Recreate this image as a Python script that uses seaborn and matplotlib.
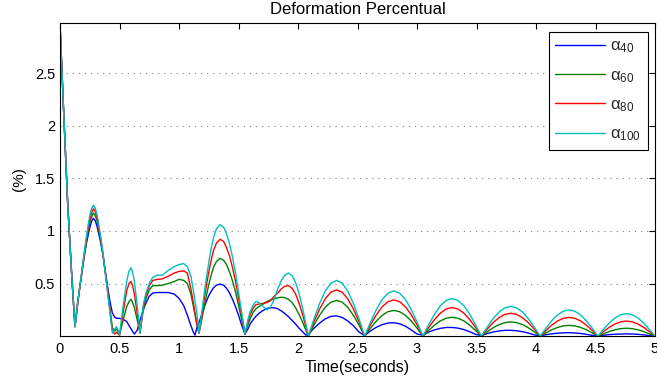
import matplotlib
matplotlib.use("Agg")
import matplotlib.pyplot as plt
from matplotlib.lines import Line2D
import pandas as pd
import seaborn as sns

# Sampled time axis (seconds), shared by all four responses
time_s = [
    # initial drop, first peak and the dip near 0.5 s
    0.0, 0.03, 0.065, 0.1, 0.126, 0.15, 0.2, 0.22, 0.24, 0.255,
    0.265, 0.28, 0.295, 0.31, 0.32, 0.34, 0.36, 0.40, 0.42, 0.44,
    0.46, 0.475, 0.49, 0.50, 0.53, 0.56, 0.58, 0.597, 0.61, 0.625, 0.65,
    # plateau around 1 s
    0.672, 0.70, 0.72, 0.75, 0.78, 0.82, 0.86, 0.91, 0.96, 1.0,
    1.04, 1.07, 1.1, 1.12, 1.134, 1.15,
    # large hump near 1.35 s
    1.168, 1.19, 1.21, 1.23, 1.25, 1.27, 1.29, 1.315, 1.345, 1.375,
    1.40, 1.425, 1.45, 1.475, 1.50, 1.525,
    # double hump up to 2.07 s
    1.555, 1.58, 1.6, 1.625, 1.647, 1.67, 1.7, 1.74, 1.77, 1.8,
    1.83, 1.86, 1.89, 1.92, 1.95, 1.98, 2.01, 2.04, 2.067,
    # decaying arches
    2.087, 2.134, 2.182, 2.229, 2.276, 2.324, 2.371, 2.418, 2.465, 2.513,
    2.56, 2.609, 2.658, 2.707, 2.756, 2.805, 2.854, 2.903, 2.952, 3.001,
    3.05, 3.099, 3.148, 3.197, 3.246, 3.295, 3.344, 3.393, 3.442, 3.491,
    3.54, 3.59, 3.639, 3.689, 3.738, 3.788, 3.837, 3.887, 3.936, 3.986,
    4.035, 4.084, 4.132, 4.181, 4.229, 4.278, 4.326, 4.375, 4.423, 4.472,
    4.52, 4.568, 4.616, 4.664, 4.712, 4.76, 4.808, 4.856, 4.904, 4.952, 5.0,
]

# Deformation (%) for each alpha setting
alpha40 = [
    2.97, 2.15, 1.25, 0.55, 0.09, 0.33, 0.73, 0.87, 0.98, 1.05,
    1.09, 1.12, 1.10, 1.05, 1.00, 0.90, 0.78, 0.47, 0.33, 0.22,
    0.18, 0.17, 0.17, 0.17, 0.16, 0.14, 0.10, 0.07, 0.045, 0.02, 0.06,
    0.15, 0.25, 0.31, 0.38, 0.41, 0.415, 0.415, 0.415, 0.40, 0.36,
    0.29, 0.20, 0.10, 0.04, 0.01, 0.08,
    0.13, 0.205, 0.27, 0.33, 0.385, 0.425, 0.46, 0.485, 0.495, 0.485,
    0.455, 0.41, 0.35, 0.28, 0.20, 0.11,
    0.02, 0.07, 0.12, 0.16, 0.19, 0.215, 0.24, 0.265, 0.27, 0.27,
    0.26, 0.24, 0.215, 0.185, 0.15, 0.115, 0.075, 0.04, 0.01,
    0.02, 0.075, 0.125, 0.165, 0.188, 0.193, 0.178, 0.145, 0.10, 0.04,
    0.005, 0.05, 0.085, 0.11, 0.125, 0.128, 0.118, 0.095, 0.06, 0.02,
    0.01, 0.04, 0.06, 0.075, 0.083, 0.083, 0.077, 0.063, 0.043, 0.018,
    0.005, 0.025, 0.04, 0.05, 0.056, 0.056, 0.052, 0.043, 0.03, 0.013,
    0.003, 0.014, 0.023, 0.029, 0.032, 0.033, 0.031, 0.026, 0.018, 0.008,
    0.002, 0.009, 0.015, 0.019, 0.021, 0.022, 0.021, 0.018, 0.013, 0.006, 0.001,
]
alpha60 = [
    2.97, 2.15, 1.25, 0.55, 0.09, 0.33, 0.74, 0.89, 1.02, 1.10,
    1.13, 1.17, 1.15, 1.10, 1.04, 0.92, 0.78, 0.44, 0.26, 0.08,
    0.05, 0.07, 0.04, 0.01, 0.15, 0.28, 0.33, 0.35, 0.32, 0.27, 0.15,
    0.03, 0.25, 0.35, 0.44, 0.48, 0.48, 0.485, 0.50, 0.52, 0.54,
    0.53, 0.50, 0.40, 0.29, 0.21, 0.11,
    0.03, 0.15, 0.27, 0.385, 0.49, 0.58, 0.655, 0.71, 0.74, 0.72,
    0.68, 0.61, 0.525, 0.42, 0.295, 0.165,
    0.02, 0.11, 0.17, 0.23, 0.26, 0.28, 0.30, 0.33, 0.345, 0.355,
    0.365, 0.37, 0.365, 0.35, 0.32, 0.27, 0.205, 0.13, 0.055,
    0.0, 0.105, 0.20, 0.275, 0.323, 0.34, 0.323, 0.275, 0.20, 0.105,
    0.0, 0.076, 0.144, 0.198, 0.233, 0.245, 0.233, 0.198, 0.144, 0.076,
    0.0, 0.056, 0.106, 0.146, 0.171, 0.18, 0.171, 0.146, 0.106, 0.056,
    0.0, 0.042, 0.08, 0.11, 0.129, 0.136, 0.129, 0.11, 0.08, 0.042,
    0.0, 0.032, 0.061, 0.083, 0.098, 0.103, 0.098, 0.083, 0.061, 0.032,
    0.0, 0.023, 0.045, 0.061, 0.072, 0.076, 0.072, 0.061, 0.045, 0.023, 0.0,
]
alpha80 = [
    2.97, 2.15, 1.25, 0.55, 0.09, 0.33, 0.75, 0.91, 1.05, 1.13,
    1.17, 1.21, 1.19, 1.13, 1.07, 0.94, 0.79, 0.43, 0.24, 0.05,
    0.02, 0.04, 0.02, 0.01, 0.22, 0.43, 0.50, 0.52, 0.48, 0.40, 0.21,
    0.03, 0.28, 0.38, 0.48, 0.53, 0.54, 0.545, 0.57, 0.60, 0.615,
    0.62, 0.60, 0.45, 0.32, 0.22, 0.12,
    0.03, 0.18, 0.34, 0.48, 0.61, 0.72, 0.815, 0.885, 0.92, 0.90,
    0.84, 0.76, 0.65, 0.52, 0.365, 0.205,
    0.02, 0.14, 0.21, 0.27, 0.30, 0.305, 0.31, 0.32, 0.34, 0.38,
    0.41, 0.45, 0.475, 0.48, 0.455, 0.40, 0.31, 0.20, 0.085,
    0.0, 0.136, 0.259, 0.356, 0.418, 0.44, 0.418, 0.356, 0.259, 0.136,
    0.0, 0.107, 0.203, 0.279, 0.328, 0.345, 0.328, 0.279, 0.203, 0.107,
    0.0, 0.084, 0.16, 0.22, 0.259, 0.272, 0.259, 0.22, 0.16, 0.084,
    0.0, 0.067, 0.128, 0.176, 0.207, 0.218, 0.207, 0.176, 0.128, 0.067,
    0.0, 0.055, 0.105, 0.145, 0.17, 0.179, 0.17, 0.145, 0.105, 0.055,
    0.0, 0.045, 0.085, 0.116, 0.137, 0.144, 0.137, 0.116, 0.085, 0.045, 0.0,
]
alpha100 = [
    2.97, 2.15, 1.25, 0.55, 0.09, 0.33, 0.76, 0.93, 1.08, 1.17,
    1.21, 1.245, 1.22, 1.16, 1.10, 0.96, 0.80, 0.42, 0.22, 0.03,
    0.07, 0.09, 0.05, 0.01, 0.28, 0.52, 0.62, 0.65, 0.61, 0.52, 0.28,
    0.03, 0.30, 0.40, 0.50, 0.56, 0.58, 0.58, 0.625, 0.66, 0.68,
    0.69, 0.66, 0.57, 0.44, 0.34, 0.22,
    0.03, 0.21, 0.39, 0.55, 0.70, 0.83, 0.94, 1.02, 1.06, 1.035,
    0.97, 0.875, 0.75, 0.60, 0.42, 0.235,
    0.02, 0.16, 0.24, 0.30, 0.33, 0.32, 0.29, 0.25, 0.28, 0.35,
    0.45, 0.53, 0.58, 0.60, 0.576, 0.51, 0.40, 0.26, 0.11,
    0.0, 0.164, 0.312, 0.429, 0.504, 0.53, 0.504, 0.429, 0.312, 0.164,
    0.0, 0.133, 0.253, 0.348, 0.409, 0.43, 0.409, 0.348, 0.253, 0.133,
    0.0, 0.111, 0.211, 0.29, 0.34, 0.358, 0.34, 0.29, 0.211, 0.111,
    0.0, 0.087, 0.166, 0.229, 0.269, 0.283, 0.269, 0.229, 0.166, 0.087,
    0.0, 0.077, 0.147, 0.202, 0.238, 0.25, 0.238, 0.202, 0.147, 0.077,
    0.0, 0.066, 0.126, 0.174, 0.204, 0.215, 0.204, 0.174, 0.126, 0.066, 0.0,
]

series_labels = [r"$\alpha_{40}$", r"$\alpha_{60}$", r"$\alpha_{80}$", r"$\alpha_{100}$"]
series_values = [alpha40, alpha60, alpha80, alpha100]
line_colors = ["#0000ff", "#008000", "#ff0000", "#00bfbf"]

x_ticks = [0, 0.5, 1, 1.5, 2, 2.5, 3, 3.5, 4, 4.5, 5]
x_tick_labels = ["0", "0.5", "1", "1.5", "2", "2.5", "3", "3.5", "4", "4.5", "5"]
y_ticks = [0.5, 1, 1.5, 2, 2.5]
y_tick_labels = ["0.5", "1", "1.5", "2", "2.5"]

# Long-form table for seaborn
records = []
for label, values in zip(series_labels, series_values):
    for t, v in zip(time_s, values):
        records.append({"Time": t, "Deformation": v, "Series": label})
df = pd.DataFrame(records)

sns.set_style("white")
plt.rcParams["font.family"] = ["Liberation Sans", "DejaVu Sans"]
plt.rcParams["mathtext.fontset"] = "custom"
plt.rcParams["mathtext.rm"] = "Liberation Sans"
plt.rcParams["mathtext.it"] = "Liberation Sans:italic"
plt.rcParams["mathtext.default"] = "regular"

fig = plt.figure(figsize=(6.57, 3.85), dpi=100)
ax = fig.add_axes([60 / 657, 49 / 385, 595 / 657, 313 / 385])

palette = dict(zip(series_labels, line_colors))
sns.lineplot(data=df, x="Time", y="Deformation", hue="Series",
             hue_order=series_labels, palette=palette, estimator=None,
             sort=False, linewidth=1.0, legend=False, ax=ax)

ax.set_xlim(0, 5)
ax.set_ylim(0.002, 2.975)
ax.set_xticks(x_ticks)
ax.set_xticklabels(x_tick_labels)
ax.set_yticks(y_ticks)
ax.set_yticklabels(y_tick_labels)

ax.yaxis.grid(True, color="#808080", linestyle=(0, (1, 4.5)), linewidth=0.8)
ax.xaxis.grid(False)
ax.set_axisbelow(True)

for side in ["left", "right", "top", "bottom"]:
    ax.spines[side].set_visible(True)
    ax.spines[side].set_color("black")
    ax.spines[side].set_linewidth(0.8)

ax.tick_params(axis="both", which="major", direction="in", top=True, right=True,
               length=4.3, width=0.8, color="black", labelsize=10.5,
               labelcolor="black")
ax.tick_params(axis="x", pad=4.4)
ax.tick_params(axis="y", pad=3.6)

ax.set_xlabel("Time(seconds)", fontsize=11.5, color="black", labelpad=3)
ax.set_ylabel("(%)", fontsize=11, color="black", labelpad=6)
ax.set_title("Deformation Percentual", fontsize=12, color="black", pad=6.8)

handles = [Line2D([0], [0], color=c, linewidth=1.0) for c in line_colors]
leg = ax.legend(handles, series_labels, loc="upper right",
                bbox_to_anchor=(0.988, 0.971), borderaxespad=0,
                fontsize=12, frameon=True, fancybox=False, framealpha=1,
                edgecolor="black", handlelength=3.0, handletextpad=0.3,
                labelspacing=0.75, borderpad=0.4)
leg.get_frame().set_linewidth(0.8)

fig.savefig("out.png", dpi=100)
